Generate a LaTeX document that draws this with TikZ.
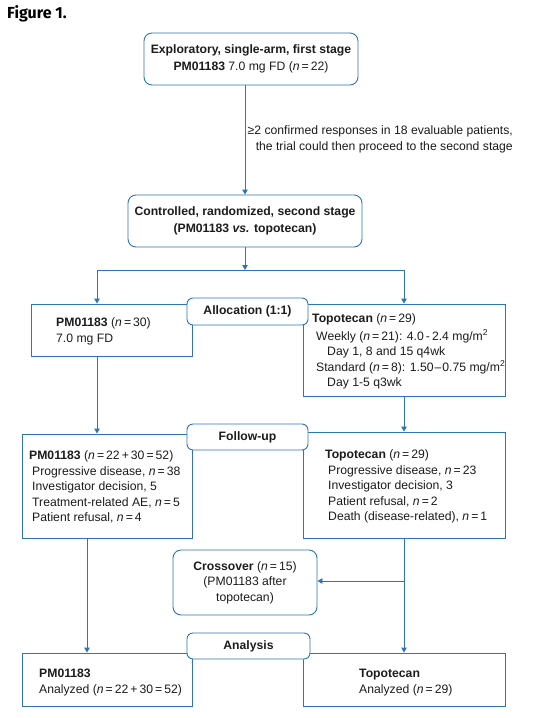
\documentclass[tikz,border=0pt]{standalone}
\usepackage{fontspec}
\setmainfont{Liberation Sans}
\newfontfamily\titlefont{Fira Sans}
\usetikzlibrary{arrows.meta}
\definecolor{boxblue}{RGB}{46,117,182}
\definecolor{inkc}{RGB}{28,28,28}
\newcommand{\nn}[1]{(\textit{n}\,=\,#1)}
\begin{document}
\begin{tikzpicture}[x=1pt,y=-1pt,
  every node/.style={font=\fontsize{12.2}{15.5}\selectfont, text=inkc},
  sq/.style={draw=boxblue, line width=0.9pt, inner sep=0pt, fill=white},
  rnd/.style={sq, rounded corners=8pt, align=center},
  lbl/.style={sq, rounded corners=6pt, align=center},
  tblock/.style={anchor=north west, align=left, inner sep=0pt},
  ln/.style={draw=boxblue, line width=0.9pt},
  arr/.style={ln, -{Triangle[length=5pt,width=5.5pt]}}]
\useasboundingbox (0,0) rectangle (550,718);
\fill[white] (0,0) rectangle (550,718);

\node[anchor=north west, inner sep=0pt, font=\titlefont\bfseries\fontsize{16}{18}\selectfont, text=black] (title) at (7,5) {Figure 1.};

% stage boxes
\node[rnd, minimum width=214pt, minimum height=52pt] (b1) at (251,59)
  {\textbf{Exploratory, single-arm, first stage}\\[1pt]\textbf{PM01183} 7.0 mg FD \nn{22}};
\node[rnd, minimum width=234pt, minimum height=52pt] (b2) at (245,221)
  {\textbf{Controlled, randomized, second stage}\\[1.5pt]\textbf{(PM01183 \textit{vs.} topotecan)}};
\node[anchor=east, align=right, inner sep=0pt] (cond) at (513,139.5)
  {≥2 confirmed responses in 18 evaluable patients,\\ the trial could then proceed to the second stage};

% allocation row
\node[sq, minimum width=161pt, minimum height=52pt] (pmA) at (111.5,330) {};
\node[sq, minimum width=202pt, minimum height=92pt] (tpA) at (404,350) {};
\node[tblock] (pmAt) at (56,315.5) {\strut\textbf{PM01183} \nn{30}\\7.0 mg FD};
\node[tblock] (tpAt) at (312,311.5) {\strut\textbf{Topotecan} \nn{29}\\[2pt]
  \hspace*{4pt}Weekly \nn{21}: 4.0\,-\,2.4 mg/m\textsuperscript{2}\\
  \hspace*{15pt}Day 1, 8 and 15 q4wk\\
  \hspace*{4pt}Standard \nn{8}: 1.50\hspace{1pt}–\hspace{1pt}0.75 mg/m\textsuperscript{2}\\
  \hspace*{15pt}Day 1-5 q3wk};
\node[lbl, minimum width=121pt, minimum height=27pt] (alloc) at (247.5,311.5) {\textbf{Allocation (1:1)}};

% follow-up row
\node[sq, minimum width=170pt, minimum height=104pt] (pmB) at (107,486) {};
\node[sq, minimum width=202pt, minimum height=106pt] (tpB) at (404,485) {};
\node[tblock] (pmBt) at (29,448.5) {\strut\textbf{PM01183} (\textit{n}\,=\,22\,+\,30\,=\,52)\\
  \hspace*{3pt}Progressive disease, \textit{n}\,=\,38\\
  \hspace*{3pt}Investigator decision, 5\\
  \hspace*{3pt}Treatment-related AE, \textit{n}\,=\,5\\
  \hspace*{3pt}Patient refusal, \textit{n}\,=\,4};
\node[tblock] (tpBt) at (325,447.5) {\strut\textbf{Topotecan} \nn{29}\\
  \hspace*{3pt}Progressive disease, \textit{n}\,=\,23\\
  \hspace*{3pt}Investigator decision, 3\\
  \hspace*{3pt}Patient refusal, \textit{n}\,=\,2\\
  \hspace*{3pt}Death (disease-related), \textit{n}\,=\,1};
\node[lbl, minimum width=121pt, minimum height=26pt] (follow) at (247.5,437) {\textbf{Follow-up}};

% crossover
\node[rnd, minimum width=144pt, minimum height=65pt] (cross) at (245,582.5)
  {\textbf{Crossover} \nn{15}\\(PM01183 after\\topotecan)};

% analysis row
\node[sq, minimum width=170pt, minimum height=53pt] (pmC) at (107,679.5) {};
\node[sq, minimum width=202pt, minimum height=53pt] (tpC) at (404,679.5) {};
\node[tblock] (pmCt) at (39,666.5) {\strut\textbf{PM01183}\\Analyzed (\textit{n}\,=\,22\,+\,30\,=\,52)};
\node[tblock] (tpCt) at (359,666.5) {\strut\textbf{Topotecan}\\Analyzed \nn{29}};
\node[lbl, minimum width=123pt, minimum height=26pt] (anal) at (248.5,646) {\textbf{Analysis}};

% connectors
\draw[arr] (b1.south -| b2.north) -- (b2.north);
\coordinate (split) at (245,270);
\coordinate (splitL) at (97,270);
\coordinate (splitR) at (404,270);
\draw[arr] (b2.south) -- (split);
\draw[ln] (splitL) -- (splitR);
\draw[arr] (splitL) -- (splitL |- pmA.north);
\draw[arr] (splitR) -- (tpA.north);
\draw[arr] (pmA.south -| splitL) -- (splitL |- pmB.north);
\draw[arr] (tpA.south) -- (tpB.north);
\coordinate (leftdown) at (87,538);
\draw[arr] (leftdown) -- (leftdown |- pmC.north);
\draw[arr] (tpB.south) -- (tpC.north);
\coordinate (crossR) at (404,581);
\draw[arr] (crossR) -- (cross.east |- crossR);
\end{tikzpicture}
\end{document}
